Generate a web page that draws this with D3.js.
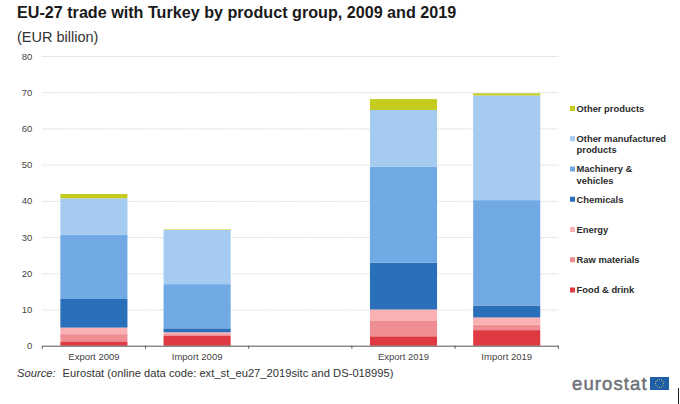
<!DOCTYPE html>
<html><head><meta charset="utf-8">
<script src="https://cdnjs.cloudflare.com/ajax/libs/d3/7.8.5/d3.min.js"></script>
<style>html,body{margin:0;padding:0;background:#fff}svg{display:block}text{font-family:"Liberation Sans",Arial,sans-serif}</style>
</head><body><svg id="c" width="680" height="404"></svg>
<script>
const categories = ["Export 2009", "Import 2009", "", "Export 2019", "Import 2019"];
const groups = ["Food & drink", "Raw materials", "Energy", "Chemicals", "Machinery & vehicles", "Other manufactured products", "Other products"];
const colors = ["#df3a42", "#ee8e92", "#f9b1b4", "#2a6fb9", "#71a9e4", "#a6cbf0", "#c3cc1f"];
const foodDrink = [1.2, 2.7, 0, 2.6, 4.3];
const rawMaterials = [2.0, 0.5, 0, 4.4, 1.5];
const energy = [1.8, 0.5, 0, 3.0, 2.0];
const chemicals = [7.9, 1.1, 0, 12.9, 3.3];
const machinery = [17.8, 12.2, 0, 26.5, 29.1];
const otherManufactured = [10.0, 14.95, 0, 15.7, 28.9];
const otherProducts = [1.2, 0.15, 0, 3.0, 0.6];
const yTicks = [0, 10, 20, 30, 40, 50, 60, 70, 80];
const legendLines = [["Food & drink"], ["Raw materials"], ["Energy"], ["Chemicals"], ["Machinery &", "vehicles"], ["Other manufactured", "products"], ["Other products"]];
const title = "EU-27 trade with Turkey by product group, 2009 and 2019";
const subtitle = "(EUR billion)";

const seriesValues = [foodDrink, rawMaterials, energy, chemicals, machinery, otherManufactured, otherProducts];
const table = categories.map((c, i) => {
  const r = {cat: c};
  groups.forEach((g, j) => r[g] = seriesValues[j][i]);
  return r;
});
const svg = d3.select("#c");
const x = d3.scaleBand().domain(categories).range([42.3, 558.3]).paddingInner(0.35).paddingOuter(0.175);
const y = d3.scaleLinear().domain([0, 80]).range([345.7, 56]);

// grid
svg.append("g").call(d3.axisLeft(y).tickValues(yTicks).tickSize(-516).tickPadding(10))
  .attr("transform", "translate(42.3,0)")
  .call(g => {
    g.select(".domain").remove();
    g.selectAll(".tick line").attr("stroke", "#d8d8d8").attr("stroke-dasharray", "1.5 1").attr("stroke-width", 1);
    g.selectAll(".tick").filter(d => d === 0).select("line").remove();
    g.selectAll("text").attr("font-size", 9.5).attr("fill", "#444").style("font-family", '"Liberation Sans",Arial,sans-serif');
  });

// bars
const stacked = d3.stack().keys(groups)(table);
svg.append("g").selectAll("g").data(stacked).join("g")
  .attr("fill", (d, i) => colors[i])
  .selectAll("rect").data(d => d.filter(p => p[1] > p[0])).join("rect")
  .attr("x", d => x(d.data.cat)).attr("width", x.bandwidth())
  .attr("y", d => y(d[1])).attr("height", d => y(d[0]) - y(d[1]));

// x axis
svg.append("g").attr("transform", `translate(0,${y(0)})`)
  .call(d3.axisBottom(x).tickSize(0).tickPadding(8))
  .call(g => {
    g.select(".domain").attr("stroke", "#555");
    g.selectAll("text").attr("font-size", 9.5).attr("fill", "#444").style("font-family", '"Liberation Sans",Arial,sans-serif');
    g.selectAll(".edge").data(d3.range(categories.length + 1)).join("line").attr("class", "edge")
      .attr("x1", i => x.range()[0] + i * x.step()).attr("x2", i => x.range()[0] + i * x.step())
      .attr("y1", 0).attr("y2", 3).attr("stroke", "#555");
  });

// titles
svg.append("text").attr("x", 17).attr("y", 17.5).attr("font-size", 16.15).attr("font-weight", 700).attr("fill", "#1a1a1a").text(title);
svg.append("text").attr("x", 17).attr("y", 42).attr("font-size", 14.5).attr("fill", "#333").text(subtitle);

// legend
const legendY = d3.scalePoint().domain(groups.slice().reverse()).range([108.5, 290]);
const centers = {"Other manufactured products": 138.7, "Machinery & vehicles": 169};
const leg = svg.append("g").selectAll("g").data(groups).join("g");
leg.append("rect").attr("x", 570).attr("width", 5).attr("height", 5)
  .attr("y", d => (centers[d] || legendY(d)) - 2.5).attr("fill", (d, i) => colors[i]);
leg.each(function(d, i) {
  const t = d3.select(this).append("text").attr("font-size", 9.4).attr("font-weight", 700).attr("fill", "#2b2b2b");
  const c = centers[d] || legendY(d);
  legendLines[i].forEach((line, k) => t.append("tspan").attr("x", 576.5).attr("y", c + 3.3 + k * 11.2).text(line));
});

// source
const src = svg.append("text").attr("x", 17).attr("y", 377).attr("font-size", 11.2).attr("fill", "#333");
src.append("tspan").attr("font-style", "italic").text("Source:");
src.append("tspan").attr("dx", 7).text("Eurostat (online data code: ext_st_eu27_2019sitc and DS-018995)");

// logo
svg.append("text").attr("x", 572).attr("y", 389.5).attr("font-size", 18.5).attr("fill", "#6d7178")
  .attr("stroke", "#6d7178").attr("stroke-width", 0.5).attr("letter-spacing", 1.1).text("eurostat");
svg.append("rect").attr("x", 650).attr("y", 377).attr("width", 19).attr("height", 13).attr("fill", "#1f5fa8");
svg.append("g").selectAll("circle").data(d3.range(12)).join("circle")
  .attr("cx", i => 659.5 + 4 * Math.cos(i * Math.PI / 6)).attr("cy", i => 383.5 + 4 * Math.sin(i * Math.PI / 6))
  .attr("r", 0.5).attr("fill", "#d9d24a");
svg.append("line").attr("x1", 678.5).attr("x2", 678.5).attr("y1", 388).attr("y2", 404).attr("stroke", "#222");
</script></body></html>
